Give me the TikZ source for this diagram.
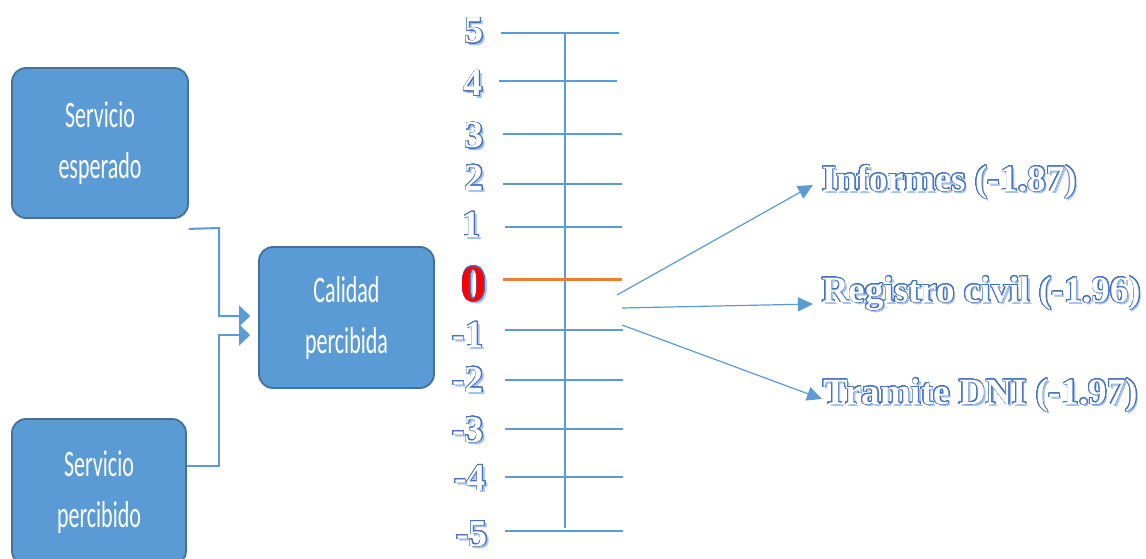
\documentclass[tikz,border=0pt]{standalone}
\usepackage{fontspec}
\setmainfont{Liberation Serif}
\newfontfamily\boxfont{Carlito}
\usepackage{contour}
\contourlength{0.7pt}
\usetikzlibrary{arrows.meta,calc}

\definecolor{boxfill}{HTML}{5B9BD5}
\definecolor{boxline}{HTML}{41719C}
\definecolor{scaleblue}{HTML}{5B9BD5}
\definecolor{textblue}{HTML}{4472C4}
\definecolor{shadowblue}{HTML}{A7C2EA}
\definecolor{zeroorange}{HTML}{ED7D31}

% outlined bold serif with a soft drop shadow
\newcommand{\fancytext}[2]{%
  \makebox[0pt][l]{\raisebox{-2.2pt}{\hspace{2.2pt}\textcolor{shadowblue}{\bfseries #2}}}%
  \contour[32]{textblue}{\textcolor{#1}{\bfseries #2}}}

% two-line box caption, stretched upright
\newcommand{\tallpair}[2]{%
  \scalebox{1}[1.7]{\begin{tabular}{@{}c@{}}#1\\#2\end{tabular}}}

\tikzset{
  block/.style={draw=boxline, line width=1.8pt, fill=boxfill, rounded corners=14pt,
    text=white, align=center, font=\boxfont\fontsize{22}{30}\selectfont},
  feed/.style={draw=scaleblue, line width=2pt, -{Triangle[length=11pt,width=21pt]}},
  tick/.style={draw=scaleblue, line width=1.2pt},
  zerotick/.style={draw=zeroorange, line width=3pt},
  pointer/.style={draw=scaleblue, line width=1.2pt, -{Triangle[length=15pt,width=14pt]}},
  num/.style={anchor=base east, inner sep=0pt, font=\fontsize{38}{40}\selectfont},
  result/.style={anchor=base west, inner sep=0pt, font=\fontsize{37}{40}\selectfont},
}

\begin{document}
\begin{tikzpicture}[x=1pt, y=-1pt]
\useasboundingbox (0,0) rectangle (1146,559);
\begin{scope}
\clip (0,0) rectangle (1146,559);

% --- input / output boxes -----------------------------------------
\node[block, minimum width=176pt, minimum height=150pt] (esp) at (100,143)
  {\tallpair{Servicio}{esperado}};
\node[block, minimum width=174pt, minimum height=146pt] (perc) at (99,492)
  {\tallpair{Servicio}{percibido}};
\node[block, minimum width=175pt, minimum height=141pt] (cal) at (346.5,317.5)
  {\tallpair{Calidad}{percibida}};

% --- elbow connectors into the quality box ---------------------------
\coordinate (espout) at ($(esp.south east)+(0,10)$);
\coordinate (percout) at ($(perc.east)+(0,-26)$);
\draw[feed] (espout) -- (219,228) -- (219,316) -- ($(cal.west |- 0,316)+(-8,0)$);
\draw[feed] (percout) -- (219,466) -- (219,335) -- ($(cal.west |- 0,335)+(-8,0)$);

% --- vertical scale -------------------------------------------------
\draw[tick] (565,33) -- (565,528);
\draw[tick] (501,33) -- (619,33);
\draw[tick] (499,81) -- (617,81);
\draw[tick] (503,134) -- (622,134);
\draw[tick] (503,184) -- (622,184);
\draw[tick] (505,227) -- (622,227);
\draw[zerotick] (503,279) -- (622,279);
\draw[tick] (505,330) -- (623,330);
\draw[tick] (505,380) -- (623,380);
\draw[tick] (505,429) -- (623,429);
\draw[tick] (505,477) -- (623,477);
\draw[tick] (505,531) -- (623,531);

% --- scale labels ---------------------------------------------------
\node[num] (n5)  at (484,43)  {\fancytext{white}{5}};
\node[num] (n4)  at (483,96)  {\fancytext{white}{4}};
\node[num] (n3)  at (484,148) {\fancytext{white}{3}};
\node[num] (n2)  at (484,190) {\fancytext{white}{2}};
\node[num] (n1)  at (481,237) {\fancytext{white}{1}};
\node[num, font=\fontsize{52}{54}\selectfont] (n0) at (487,301) {\fancytext{red}{0}};
\node[num] (m1)  at (484,347) {\fancytext{white}{-1}};
\node[num] (m2)  at (484,392) {\fancytext{white}{-2}};
\node[num] (m3)  at (484,442) {\fancytext{white}{-3}};
\node[num] (m4)  at (486,490) {\fancytext{white}{-4}};
\node[num] (m5)  at (488,546) {\fancytext{white}{-5}};

% --- results --------------------------------------------------------
\node[result] (inf) at (822,191) {\fancytext{white}{Informes (-1.87)}};
\node[result] (reg) at (822,302) {\fancytext{white}{Registro civil (-1.96)}};
\node[result] (dni) at (823,404) {\fancytext{white}{Tramite DNI (-1.97)}};

\coordinate (s1) at (617,295);
\coordinate (s2) at (622,308);
\coordinate (s3) at (622,325);
\draw[pointer] (s1) -- ($(inf.base west)+(-9,-6)$);
\draw[pointer] (s2) -- ($(reg.base west)+(-9,2)$);
\draw[pointer] (s3) -- ($(dni.base west)+(-1,-5)$);
\end{scope}
\end{tikzpicture}
\end{document}
